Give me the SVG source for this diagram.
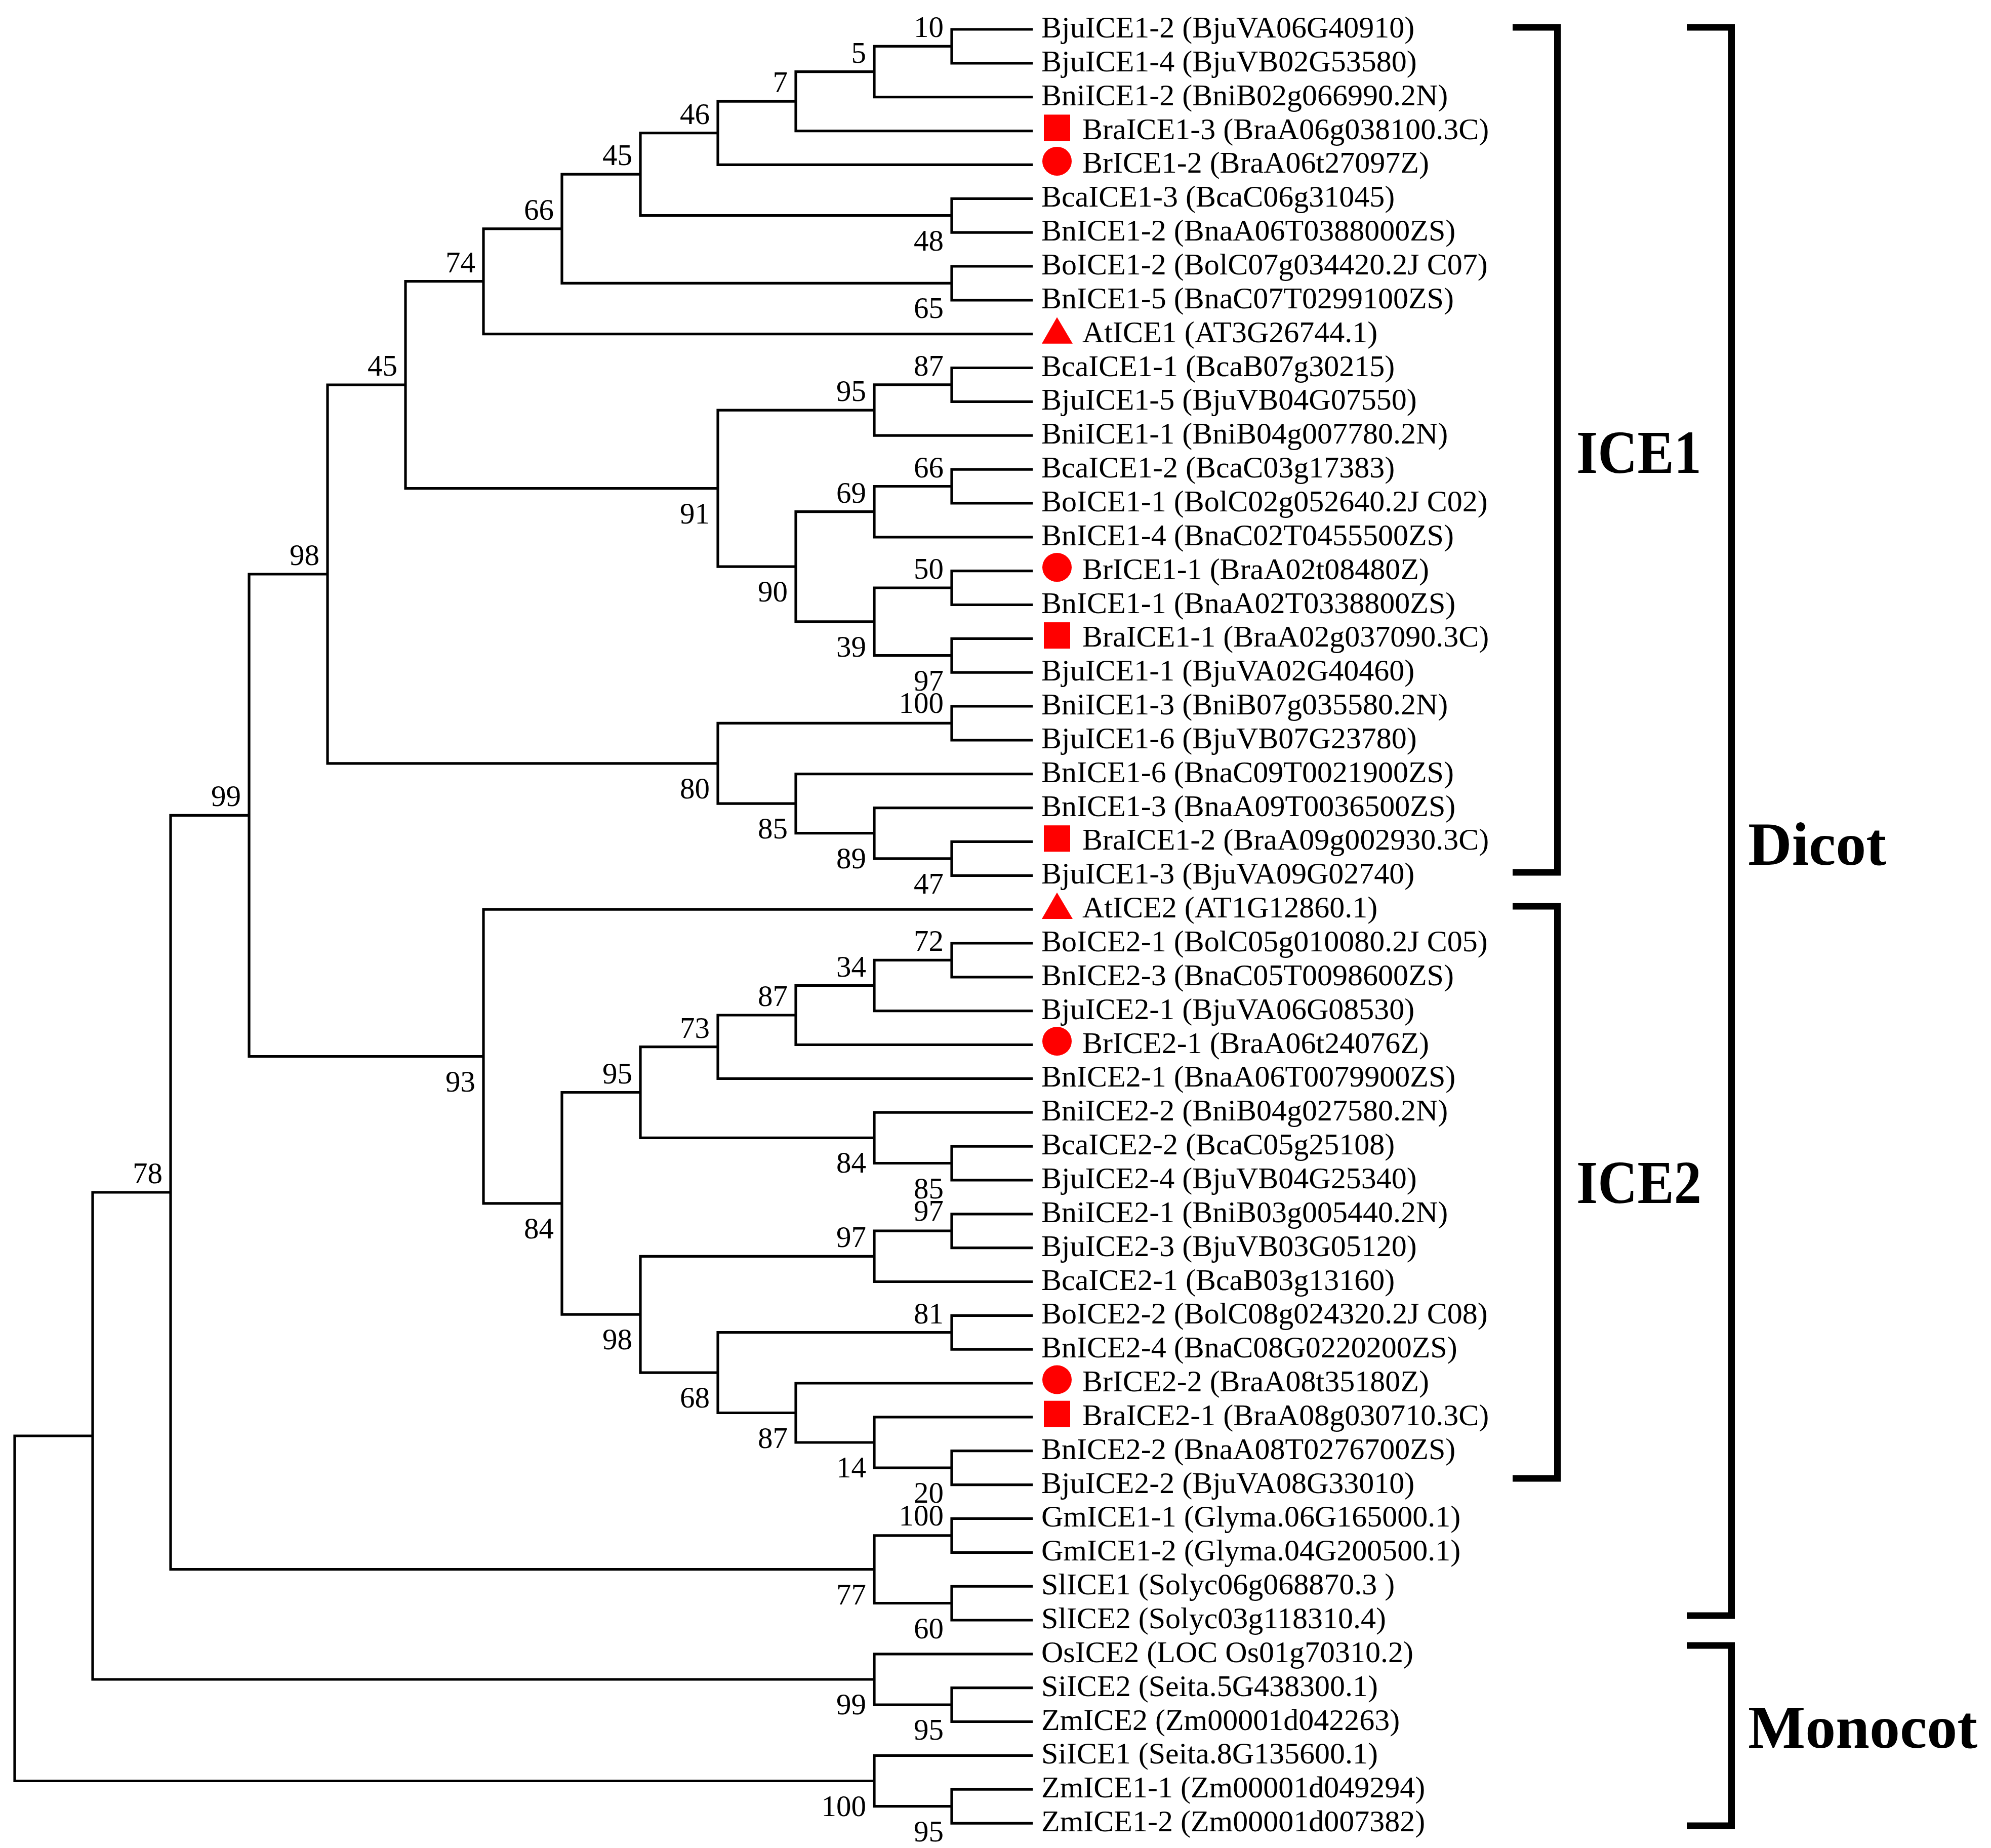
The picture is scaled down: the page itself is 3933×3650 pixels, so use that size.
<svg xmlns="http://www.w3.org/2000/svg" width="3933" height="3650" viewBox="0 0 3933 3650">
<style>
.br{fill:none;stroke:#000;stroke-width:5.2;stroke-linejoin:miter;stroke-linecap:butt}
.bk{fill:none;stroke:#000;stroke-width:13;stroke-linejoin:miter;stroke-linecap:butt}
.lf{font-family:"Liberation Serif","Times New Roman",serif;font-size:60px;fill:#000}
.bs{font-family:"Liberation Serif","Times New Roman",serif;font-size:59px;fill:#000;text-anchor:end}
.cl{font-family:"Liberation Serif","Times New Roman",serif;font-size:120px;font-weight:bold;fill:#000}
.mk{fill:#FF0000}
</style>
<rect width="3933" height="3650" fill="#fff"/>
<g id="connectors">
<path class="br" d="M2040,58 H1880 V124.9 H2040"/>
<path class="br" d="M1880,91.4 H1727 V191.7 H2040"/>
<path class="br" d="M1727,141.6 H1572 V258.6 H2040"/>
<path class="br" d="M1572,200.1 H1418 V325.4 H2040"/>
<path class="br" d="M2040,392.3 H1880 V459.1 H2040"/>
<path class="br" d="M1418,262.7 H1265 V425.7 H1880"/>
<path class="br" d="M2040,526 H1880 V592.8 H2040"/>
<path class="br" d="M1265,344.2 H1110 V559.4 H1880"/>
<path class="br" d="M1110,451.8 H955 V659.7 H2040"/>
<path class="br" d="M2040,726.5 H1880 V793.4 H2040"/>
<path class="br" d="M1880,759.9 H1727 V860.2 H2040"/>
<path class="br" d="M2040,927.1 H1880 V993.9 H2040"/>
<path class="br" d="M1880,960.5 H1727 V1060.8 H2040"/>
<path class="br" d="M2040,1127.6 H1880 V1194.5 H2040"/>
<path class="br" d="M2040,1261.3 H1880 V1328.2 H2040"/>
<path class="br" d="M1880,1161 H1727 V1294.7 H1880"/>
<path class="br" d="M1727,1010.6 H1572 V1227.9 H1727"/>
<path class="br" d="M1727,810.1 H1418 V1119.2 H1572"/>
<path class="br" d="M955,555.7 H801 V964.7 H1418"/>
<path class="br" d="M2040,1395 H1880 V1461.9 H2040"/>
<path class="br" d="M2040,1662.4 H1880 V1729.3 H2040"/>
<path class="br" d="M2040,1595.6 H1727 V1695.8 H1880"/>
<path class="br" d="M2040,1528.7 H1572 V1645.7 H1727"/>
<path class="br" d="M1880,1428.4 H1418 V1587.2 H1572"/>
<path class="br" d="M801,760.2 H647 V1507.8 H1418"/>
<path class="br" d="M2040,1863 H1880 V1929.8 H2040"/>
<path class="br" d="M1880,1896.4 H1727 V1996.7 H2040"/>
<path class="br" d="M1727,1946.5 H1572 V2063.5 H2040"/>
<path class="br" d="M1572,2005 H1418 V2130.4 H2040"/>
<path class="br" d="M2040,2264.1 H1880 V2330.9 H2040"/>
<path class="br" d="M2040,2197.2 H1727 V2297.5 H1880"/>
<path class="br" d="M1418,2067.7 H1265 V2247.3 H1727"/>
<path class="br" d="M2040,2397.8 H1880 V2464.6 H2040"/>
<path class="br" d="M1880,2431.2 H1727 V2531.5 H2040"/>
<path class="br" d="M2040,2598.3 H1880 V2665.2 H2040"/>
<path class="br" d="M2040,2865.7 H1880 V2932.6 H2040"/>
<path class="br" d="M2040,2798.9 H1727 V2899.1 H1880"/>
<path class="br" d="M2040,2732 H1572 V2849 H1727"/>
<path class="br" d="M1880,2631.7 H1418 V2790.5 H1572"/>
<path class="br" d="M1727,2481.3 H1265 V2711.1 H1418"/>
<path class="br" d="M1265,2157.5 H1110 V2596.2 H1265"/>
<path class="br" d="M2040,1796.1 H955 V2376.9 H1110"/>
<path class="br" d="M647,1134 H492 V2086.5 H955"/>
<path class="br" d="M2040,2999.4 H1880 V3066.3 H2040"/>
<path class="br" d="M2040,3133.1 H1880 V3200 H2040"/>
<path class="br" d="M1880,3032.8 H1727 V3166.5 H1880"/>
<path class="br" d="M492,1610.3 H337 V3099.7 H1727"/>
<path class="br" d="M2040,3333.7 H1880 V3400.5 H2040"/>
<path class="br" d="M2040,3266.8 H1727 V3367.1 H1880"/>
<path class="br" d="M337,2355 H183 V3317 H1727"/>
<path class="br" d="M2040,3534.2 H1880 V3601.1 H2040"/>
<path class="br" d="M2040,3467.4 H1727 V3567.6 H1880"/>
<path class="br" d="M183,2836 H29 V3517.5 H1727"/>
</g>
<g id="bootstrap">
<text class="bs" x="1864" y="73.4">10</text>
<text class="bs" x="1711" y="123.6">5</text>
<text class="bs" x="1556" y="182.1">7</text>
<text class="bs" x="1402" y="244.7">46</text>
<text class="bs" x="1864" y="494.7">48</text>
<text class="bs" x="1249" y="326.2">45</text>
<text class="bs" x="1864" y="628.4">65</text>
<text class="bs" x="1094" y="433.8">66</text>
<text class="bs" x="939" y="537.7">74</text>
<text class="bs" x="1864" y="741.9">87</text>
<text class="bs" x="1711" y="792.1">95</text>
<text class="bs" x="1864" y="942.5">66</text>
<text class="bs" x="1711" y="992.6">69</text>
<text class="bs" x="1864" y="1143">50</text>
<text class="bs" x="1864" y="1363.7">97</text>
<text class="bs" x="1711" y="1296.9">39</text>
<text class="bs" x="1556" y="1188.2">90</text>
<text class="bs" x="1402" y="1033.7">91</text>
<text class="bs" x="785" y="742.2">45</text>
<text class="bs" x="1864" y="1408.4">100</text>
<text class="bs" x="1864" y="1764.8">47</text>
<text class="bs" x="1711" y="1714.7">89</text>
<text class="bs" x="1556" y="1656.2">85</text>
<text class="bs" x="1402" y="1576.8">80</text>
<text class="bs" x="631" y="1116">98</text>
<text class="bs" x="1864" y="1878.4">72</text>
<text class="bs" x="1711" y="1928.5">34</text>
<text class="bs" x="1556" y="1987">87</text>
<text class="bs" x="1402" y="2049.7">73</text>
<text class="bs" x="1864" y="2366.5">85</text>
<text class="bs" x="1711" y="2316.3">84</text>
<text class="bs" x="1249" y="2139.5">95</text>
<text class="bs" x="1864" y="2411.2">97</text>
<text class="bs" x="1711" y="2463.3">97</text>
<text class="bs" x="1864" y="2613.7">81</text>
<text class="bs" x="1864" y="2968.1">20</text>
<text class="bs" x="1711" y="2918">14</text>
<text class="bs" x="1556" y="2859.5">87</text>
<text class="bs" x="1402" y="2780.1">68</text>
<text class="bs" x="1249" y="2665.2">98</text>
<text class="bs" x="1094" y="2445.9">84</text>
<text class="bs" x="939" y="2155.5">93</text>
<text class="bs" x="476" y="1592.3">99</text>
<text class="bs" x="1864" y="3012.8">100</text>
<text class="bs" x="1864" y="3235.5">60</text>
<text class="bs" x="1711" y="3168.7">77</text>
<text class="bs" x="321" y="2337">78</text>
<text class="bs" x="1864" y="3436.1">95</text>
<text class="bs" x="1711" y="3386">99</text>
<text class="bs" x="1864" y="3636.6">95</text>
<text class="bs" x="1711" y="3586.5">100</text>
</g>
<g id="leaves">
<g id="leaf1"><text class="lf" x="2057" y="74">BjuICE1-2 (BjuVA06G40910)</text></g>
<g id="leaf2"><text class="lf" x="2057" y="140.9">BjuICE1-4 (BjuVB02G53580)</text></g>
<g id="leaf3"><text class="lf" x="2057" y="207.7">BniICE1-2 (BniB02g066990.2N)</text></g>
<g id="leaf4"><rect class="mk" x="2062" y="226.4" width="52" height="52"/><text class="lf" x="2138" y="274.6">BraICE1-3 (BraA06g038100.3C)</text></g>
<g id="leaf5"><ellipse class="mk" cx="2088" cy="318.4" rx="29" ry="28.5"/><text class="lf" x="2138" y="341.4">BrICE1-2 (BraA06t27097Z)</text></g>
<g id="leaf6"><text class="lf" x="2057" y="408.3">BcaICE1-3 (BcaC06g31045)</text></g>
<g id="leaf7"><text class="lf" x="2057" y="475.1">BnICE1-2 (BnaA06T0388000ZS)</text></g>
<g id="leaf8"><text class="lf" x="2057" y="542">BoICE1-2 (BolC07g034420.2J C07)</text></g>
<g id="leaf9"><text class="lf" x="2057" y="608.8">BnICE1-5 (BnaC07T0299100ZS)</text></g>
<g id="leaf10"><polygon class="mk" points="2088,626.4 2058,678.7 2119,678.7"/><text class="lf" x="2138" y="675.7">AtICE1 (AT3G26744.1)</text></g>
<g id="leaf11"><text class="lf" x="2057" y="742.5">BcaICE1-1 (BcaB07g30215)</text></g>
<g id="leaf12"><text class="lf" x="2057" y="809.4">BjuICE1-5 (BjuVB04G07550)</text></g>
<g id="leaf13"><text class="lf" x="2057" y="876.2">BniICE1-1 (BniB04g007780.2N)</text></g>
<g id="leaf14"><text class="lf" x="2057" y="943.1">BcaICE1-2 (BcaC03g17383)</text></g>
<g id="leaf15"><text class="lf" x="2057" y="1009.9">BoICE1-1 (BolC02g052640.2J C02)</text></g>
<g id="leaf16"><text class="lf" x="2057" y="1076.8">BnICE1-4 (BnaC02T0455500ZS)</text></g>
<g id="leaf17"><ellipse class="mk" cx="2088" cy="1120.6" rx="29" ry="28.5"/><text class="lf" x="2138" y="1143.6">BrICE1-1 (BraA02t08480Z)</text></g>
<g id="leaf18"><text class="lf" x="2057" y="1210.5">BnICE1-1 (BnaA02T0338800ZS)</text></g>
<g id="leaf19"><rect class="mk" x="2062" y="1229.1" width="52" height="52"/><text class="lf" x="2138" y="1277.3">BraICE1-1 (BraA02g037090.3C)</text></g>
<g id="leaf20"><text class="lf" x="2057" y="1344.2">BjuICE1-1 (BjuVA02G40460)</text></g>
<g id="leaf21"><text class="lf" x="2057" y="1411">BniICE1-3 (BniB07g035580.2N)</text></g>
<g id="leaf22"><text class="lf" x="2057" y="1477.9">BjuICE1-6 (BjuVB07G23780)</text></g>
<g id="leaf23"><text class="lf" x="2057" y="1544.7">BnICE1-6 (BnaC09T0021900ZS)</text></g>
<g id="leaf24"><text class="lf" x="2057" y="1611.6">BnICE1-3 (BnaA09T0036500ZS)</text></g>
<g id="leaf25"><rect class="mk" x="2062" y="1630.2" width="52" height="52"/><text class="lf" x="2138" y="1678.4">BraICE1-2 (BraA09g002930.3C)</text></g>
<g id="leaf26"><text class="lf" x="2057" y="1745.3">BjuICE1-3 (BjuVA09G02740)</text></g>
<g id="leaf27"><polygon class="mk" points="2088,1762.8 2058,1815.1 2119,1815.1"/><text class="lf" x="2138" y="1812.1">AtICE2 (AT1G12860.1)</text></g>
<g id="leaf28"><text class="lf" x="2057" y="1879">BoICE2-1 (BolC05g010080.2J C05)</text></g>
<g id="leaf29"><text class="lf" x="2057" y="1945.8">BnICE2-3 (BnaC05T0098600ZS)</text></g>
<g id="leaf30"><text class="lf" x="2057" y="2012.7">BjuICE2-1 (BjuVA06G08530)</text></g>
<g id="leaf31"><ellipse class="mk" cx="2088" cy="2056.5" rx="29" ry="28.5"/><text class="lf" x="2138" y="2079.5">BrICE2-1 (BraA06t24076Z)</text></g>
<g id="leaf32"><text class="lf" x="2057" y="2146.4">BnICE2-1 (BnaA06T0079900ZS)</text></g>
<g id="leaf33"><text class="lf" x="2057" y="2213.2">BniICE2-2 (BniB04g027580.2N)</text></g>
<g id="leaf34"><text class="lf" x="2057" y="2280.1">BcaICE2-2 (BcaC05g25108)</text></g>
<g id="leaf35"><text class="lf" x="2057" y="2346.9">BjuICE2-4 (BjuVB04G25340)</text></g>
<g id="leaf36"><text class="lf" x="2057" y="2413.8">BniICE2-1 (BniB03g005440.2N)</text></g>
<g id="leaf37"><text class="lf" x="2057" y="2480.6">BjuICE2-3 (BjuVB03G05120)</text></g>
<g id="leaf38"><text class="lf" x="2057" y="2547.5">BcaICE2-1 (BcaB03g13160)</text></g>
<g id="leaf39"><text class="lf" x="2057" y="2614.3">BoICE2-2 (BolC08g024320.2J C08)</text></g>
<g id="leaf40"><text class="lf" x="2057" y="2681.2">BnICE2-4 (BnaC08G0220200ZS)</text></g>
<g id="leaf41"><ellipse class="mk" cx="2088" cy="2725" rx="29" ry="28.5"/><text class="lf" x="2138" y="2748">BrICE2-2 (BraA08t35180Z)</text></g>
<g id="leaf42"><rect class="mk" x="2062" y="2766.7" width="52" height="52"/><text class="lf" x="2138" y="2814.9">BraICE2-1 (BraA08g030710.3C)</text></g>
<g id="leaf43"><text class="lf" x="2057" y="2881.7">BnICE2-2 (BnaA08T0276700ZS)</text></g>
<g id="leaf44"><text class="lf" x="2057" y="2948.6">BjuICE2-2 (BjuVA08G33010)</text></g>
<g id="leaf45"><text class="lf" x="2057" y="3015.4">GmICE1-1 (Glyma.06G165000.1)</text></g>
<g id="leaf46"><text class="lf" x="2057" y="3082.3">GmICE1-2 (Glyma.04G200500.1)</text></g>
<g id="leaf47"><text class="lf" x="2057" y="3149.1">SlICE1 (Solyc06g068870.3 )</text></g>
<g id="leaf48"><text class="lf" x="2057" y="3216">SlICE2 (Solyc03g118310.4)</text></g>
<g id="leaf49"><text class="lf" x="2057" y="3282.8">OsICE2 (LOC Os01g70310.2)</text></g>
<g id="leaf50"><text class="lf" x="2057" y="3349.7">SiICE2 (Seita.5G438300.1)</text></g>
<g id="leaf51"><text class="lf" x="2057" y="3416.5">ZmICE2 (Zm00001d042263)</text></g>
<g id="leaf52"><text class="lf" x="2057" y="3483.4">SiICE1 (Seita.8G135600.1)</text></g>
<g id="leaf53"><text class="lf" x="2057" y="3550.2">ZmICE1-1 (Zm00001d049294)</text></g>
<g id="leaf54"><text class="lf" x="2057" y="3617.1">ZmICE1-2 (Zm00001d007382)</text></g>
</g>
<g id="clades">
<g id="ICE1"><path class="bk" d="M2988,54 H3076.5 V1723 H2988"/><text class="cl" x="3114" y="934" textLength="247" lengthAdjust="spacingAndGlyphs">ICE1</text></g>
<g id="ICE2"><path class="bk" d="M2988,1790 H3076.5 V2920 H2988"/><text class="cl" x="3114" y="2376" textLength="247" lengthAdjust="spacingAndGlyphs">ICE2</text></g>
<g id="Dicot"><path class="bk" d="M3332,54 H3420.5 V3191 H3332"/><text class="cl" x="3453" y="1708">Dicot</text></g>
<g id="Monocot"><path class="bk" d="M3332,3250 H3420.5 V3606 H3332"/><text class="cl" x="3453" y="3452">Monocot</text></g>
</g>
</svg>
